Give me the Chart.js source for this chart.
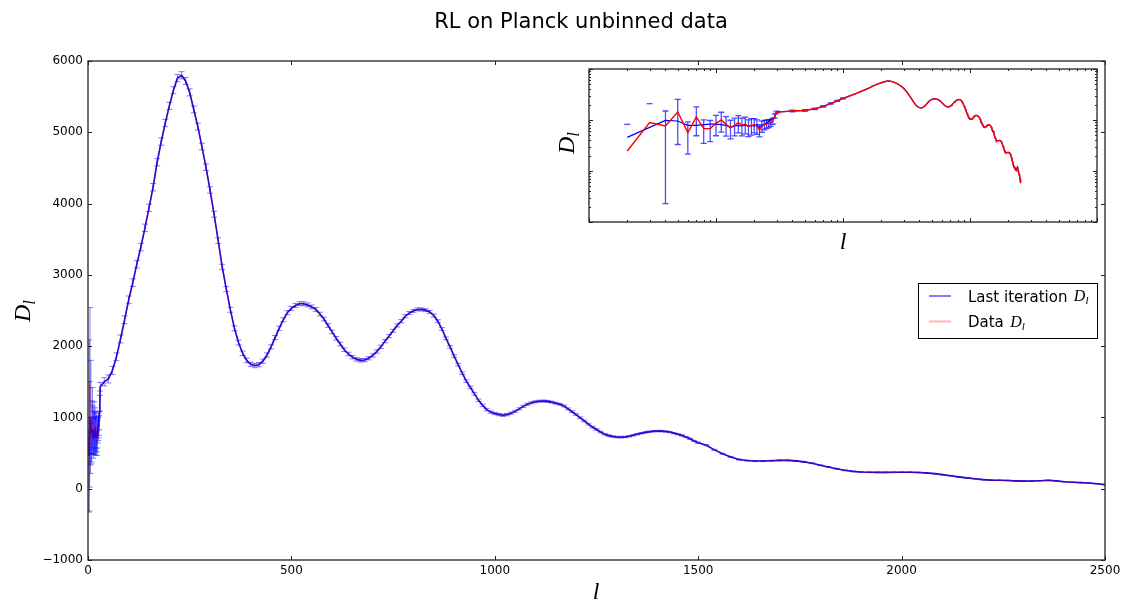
<!DOCTYPE html>
<html>
<head>
<meta charset="utf-8">
<script src="https://cdn.jsdelivr.net/npm/chart.js@4"></script>
<style>
  html, body { margin: 0; padding: 0; background: #fff; }
  #wrap { position: relative; width: 1125px; height: 601px; }
  #wrap canvas { position: absolute; left: 0; top: 0; }
</style>
</head>
<body>
<div id="wrap">
  <canvas id="main" width="1125" height="601"></canvas>
  <canvas id="inset" width="1125" height="601"></canvas>
</div>
<script>
// low multipoles, one value per l
const ellLow = [2, 3, 4, 5, 6, 7, 8, 9, 10, 11, 12, 13, 14, 15, 16, 17, 18, 19, 20,
  21, 22, 23, 24, 25, 26, 27, 28, 29];
const lastLow = [457, 718, 985, 955, 787, 787, 811, 828, 828, 811, 787, 708, 763, 787, 763,
  795, 763, 787, 763, 811, 708, 787, 811, 888, 928, 1000, 1063, 1146];
const dataLow = [247, 888, 763, 1436, 565, 1146, 677, 677, 861, 1000, 822, 708, 787, 888, 787,
  835, 740, 787, 811, 763, 637, 763, 811, 835, 861, 888, 955, 1199];
const errLow = [575, 1200, 740, 1105, 350, 655, 330, 300, 370, 420, 340, 280, 300, 330, 300,
  300, 270, 280, 250, 240, 170, 190, 170, 160, 150, 140, 130, 110];

// high multipoles (reconstruction and data sit on top of each other here)
const ellHigh = [
  30, 40, 50, 60, 70, 80, 90, 100,
  110, 120, 130, 140, 150, 160, 170, 180, 190, 200,
  210, 220, 230, 240, 250, 260, 270, 280, 290, 300,
  310, 320, 330, 340, 350, 360, 370, 380, 390, 400,
  410, 420, 430, 440, 450, 460, 470, 480, 490, 500,
  510, 520, 530, 540, 550, 560, 570, 580, 590, 600,
  610, 620, 630, 640, 650, 660, 670, 680, 690, 700,
  710, 720, 730, 740, 750, 760, 770, 780, 790, 800,
  810, 820, 830, 840, 850, 860, 870, 880, 890, 900,
  910, 920, 930, 940, 950, 960, 970, 980, 990, 1000,
  1010, 1020, 1030, 1040, 1050, 1060, 1070, 1080, 1090, 1100,
  1110, 1120, 1130, 1140, 1150, 1160, 1170, 1180, 1190, 1200,
  1210, 1220, 1230, 1240, 1250, 1260, 1270, 1280, 1290, 1300,
  1310, 1320, 1330, 1340, 1350, 1360, 1370, 1380, 1390, 1400,
  1410, 1420, 1430, 1440, 1450, 1460, 1470, 1480, 1490, 1500,
  1520, 1540, 1560, 1580, 1600, 1620, 1640, 1660, 1680, 1700,
  1720, 1740, 1760, 1780, 1800, 1820, 1840, 1860, 1880, 1900,
  1920, 1940, 1960, 1980, 2000, 2020, 2040, 2060, 2080, 2100,
  2120, 2140, 2160, 2180, 2200, 2220, 2240, 2260, 2280, 2300,
  2320, 2340, 2360, 2380, 2400, 2420, 2440, 2460, 2480, 2500
];
const dlHigh = [
  1430, 1500, 1540, 1660, 1850, 2100, 2370, 2650,
  2890, 3150, 3390, 3660, 3940, 4230, 4580, 4870, 5130, 5370,
  5590, 5760, 5800, 5720, 5560, 5320, 5080, 4800, 4510, 4190,
  3850, 3480, 3110, 2800, 2510, 2250, 2050, 1900, 1800, 1745,
  1728, 1740, 1790, 1875, 1990, 2120, 2250, 2370, 2470, 2530,
  2570, 2595, 2595, 2578, 2550, 2515, 2450, 2380, 2290, 2200,
  2110, 2030, 1950, 1890, 1845, 1815, 1801, 1805, 1830, 1870,
  1925, 1990, 2070, 2140, 2215, 2290, 2350, 2420, 2465, 2495,
  2515, 2515, 2505, 2480, 2430, 2350, 2240, 2110, 1990, 1860,
  1740, 1620, 1510, 1420, 1330, 1240, 1170, 1110, 1075, 1055,
  1040, 1030, 1040, 1060, 1085, 1120, 1155, 1185, 1205, 1220,
  1228, 1230, 1225, 1215, 1200, 1185, 1160, 1120, 1080, 1040,
  995, 950, 905, 865, 830, 795, 765, 745, 733, 725,
  723, 726, 735, 750, 765, 778, 790, 800, 806, 809,
  808, 803, 795, 780, 765, 748, 725, 700, 670, 645,
  610, 545, 490, 445, 410, 395, 388, 388, 393, 398,
  398, 390, 377, 358, 330, 305, 280, 258, 243, 235,
  230, 229, 229, 230, 232, 232, 228, 222, 212, 198,
  183, 166, 152, 140, 128, 121, 118, 116, 110, 106,
  108, 112, 118, 110, 98, 91, 85, 80, 70, 58
];
const errHigh = [
  60, 58, 56, 56, 55, 55, 55, 54,
  54, 53, 53, 52, 52, 52, 51, 51, 50, 50,
  50, 50, 50, 49, 49, 48, 48, 47, 46, 45,
  42, 40, 38, 36, 35, 34, 33, 32, 32, 31,
  31, 30, 30, 30, 29, 29, 29, 28, 28, 28,
  28, 28, 27, 27, 27, 27, 26, 26, 26, 26,
  25, 25, 25, 24, 24, 24, 24, 23, 23, 23,
  23, 23, 22, 22, 22, 22, 22, 21, 21, 21,
  21, 21, 20, 20, 20, 20, 20, 19, 19, 19,
  19, 18, 18, 18, 18, 17, 17, 17, 17, 16,
  16, 16, 16, 15, 15, 15, 15, 15, 14, 14,
  14, 14, 14, 13, 13, 13, 13, 13, 12, 12,
  12, 12, 12, 12, 11, 11, 11, 11, 11, 11,
  11, 10, 10, 10, 10, 10, 10, 10, 10, 10,
  10, 9, 9, 9, 9, 9, 9, 9, 9, 9,
  8, 8, 8, 8, 8, 7, 7, 7, 7, 7,
  7, 7, 6, 6, 6, 6, 6, 6, 5, 5,
  5, 5, 5, 5, 5, 5, 5, 5, 4, 4,
  4, 4, 4, 4, 4, 3, 3, 3, 3, 3,
  3, 3, 3, 3, 3, 3, 3, 3, 2, 2
];

const xTicks = [0, 500, 1000, 1500, 2000, 2500];
const yTicks = [-1000, 0, 1000, 2000, 3000, 4000, 5000, 6000];
const insetXRange = [1, 10000];
const insetYRange = [10, 10000];
const INSET_ERR_MAX_L = 100; // above this the bars vanish under the red line

const ell = ellLow.concat(ellHigh);
const errAll = errLow.concat(errHigh);
const lastPts = ell.map((l, i) => ({ x: l, y: i < ellLow.length ? lastLow[i] : dlHigh[i - ellLow.length] }));
const dataPts = ell.map((l, i) => ({ x: l, y: i < ellLow.length ? dataLow[i] : dlHigh[i - ellLow.length] }));

const SANS = '"DejaVu Sans", sans-serif';
const SERIF = '"Liberation Serif", "DejaVu Serif", serif';

// D with subscript l, centred on (cx, cy)
function drawDl(ctx, cx, cy, size, rotate) {
  ctx.save();
  ctx.translate(cx, cy);
  if (rotate) ctx.rotate(-Math.PI / 2);
  ctx.fillStyle = '#000';
  ctx.textAlign = 'left';
  ctx.textBaseline = 'alphabetic';
  ctx.font = `italic ${size}px ${SERIF}`;
  const wD = ctx.measureText('D').width;
  ctx.font = `italic ${Math.round(size * 0.7)}px ${SERIF}`;
  const wl = ctx.measureText('l').width;
  const x0 = -(wD + wl) / 2;
  ctx.font = `italic ${size}px ${SERIF}`;
  ctx.fillText('D', x0, size * 0.33);
  ctx.font = `italic ${Math.round(size * 0.7)}px ${SERIF}`;
  ctx.fillText('l', x0 + wD, size * 0.33 + size * 0.2);
  ctx.restore();
}

function errorBars(color, cap, width, logScale, maxL) {
  return {
    id: 'errbars',
    afterDatasetDraw(chart, args) {
      if (args.index !== 0) return;
      const { ctx, chartArea } = chart;
      const xs = chart.scales.x, ys = chart.scales.y;
      ctx.save();
      ctx.beginPath();
      ctx.rect(chartArea.left, chartArea.top, chartArea.width, chartArea.height);
      ctx.clip();
      ctx.strokeStyle = color;
      ctx.lineWidth = width;
      dataPts.forEach((p, i) => {
        if (p.x > maxL) return;
        const e = errAll[i];
        const px = xs.getPixelForValue(p.x);
        const hi = ys.getPixelForValue(p.y + e);
        ctx.beginPath();
        ctx.moveTo(px - cap, hi); ctx.lineTo(px + cap, hi);
        if (!(logScale && p.y - e <= 0)) {
          const lo = ys.getPixelForValue(p.y - e);
          ctx.moveTo(px, hi); ctx.lineTo(px, lo);
          ctx.moveTo(px - cap, lo); ctx.lineTo(px + cap, lo);
        }
        ctx.stroke();
      });
      ctx.restore();
    }
  };
}

function frameAndTicks(ctx, area, xs, ys, xt, yt) {
  ctx.save();
  ctx.strokeStyle = '#222';
  ctx.lineWidth = 1;
  xt.forEach(t => {
    const px = Math.round(xs.getPixelForValue(t.v)) + 0.5;
    ctx.beginPath();
    ctx.moveTo(px, area.bottom); ctx.lineTo(px, area.bottom - t.len);
    ctx.moveTo(px, area.top); ctx.lineTo(px, area.top + t.len);
    ctx.stroke();
  });
  yt.forEach(t => {
    const py = Math.round(ys.getPixelForValue(t.v)) + 0.5;
    ctx.beginPath();
    ctx.moveTo(area.left, py); ctx.lineTo(area.left + t.len, py);
    ctx.moveTo(area.right, py); ctx.lineTo(area.right - t.len, py);
    ctx.stroke();
  });
  ctx.lineWidth = 1.3;
  ctx.strokeRect(area.left, area.top, area.right - area.left, area.bottom - area.top);
  ctx.restore();
}

const mainDecor = {
  id: 'mainDecor',
  beforeDraw(chart) {
    const ctx = chart.ctx;
    ctx.save();
    ctx.fillStyle = '#fff';
    ctx.fillRect(0, 0, chart.width, chart.height);
    ctx.restore();
  },
  afterDraw(chart) {
    const { ctx, chartArea } = chart;
    frameAndTicks(ctx, chartArea, chart.scales.x, chart.scales.y,
      xTicks.map(v => ({ v, len: 4 })), yTicks.map(v => ({ v, len: 4 })));

    // title
    ctx.save();
    ctx.fillStyle = '#000';
    ctx.font = `21px ${SANS}`;
    ctx.textAlign = 'center';
    ctx.textBaseline = 'alphabetic';
    ctx.fillText('RL on Planck unbinned data', 581, 28);

    // axis labels
    ctx.font = `italic 24px ${SERIF}`;
    ctx.fillText('l', 596, 599);
    ctx.restore();
    drawDl(ctx, 22, 311, 24, true);

    // legend
    ctx.save();
    ctx.fillStyle = '#fff';
    ctx.fillRect(918.5, 283.5, 179, 55);
    ctx.strokeStyle = '#000';
    ctx.lineWidth = 1;
    ctx.strokeRect(918.5, 283.5, 179, 55);
    ctx.strokeStyle = '#0000ff';
    ctx.beginPath(); ctx.moveTo(929, 296); ctx.lineTo(951, 296); ctx.stroke();
    ctx.strokeStyle = 'rgba(255,0,0,0.3)';
    ctx.lineWidth = 2;
    ctx.beginPath(); ctx.moveTo(929, 321.5); ctx.lineTo(951, 321.5); ctx.stroke();
    ctx.fillStyle = '#000';
    ctx.font = `15px ${SANS}`;
    ctx.textAlign = 'left';
    ctx.textBaseline = 'alphabetic';
    ctx.fillText('Last iteration', 968, 301.5);
    ctx.fillText('Data', 968, 327);
    const w1 = ctx.measureText('Last iteration ').width;
    const w2 = ctx.measureText('Data ').width;
    ctx.restore();
    drawDl(ctx, 968 + w1 + 9, 296, 16, false);
    drawDl(ctx, 968 + w2 + 9, 321.5, 16, false);
  }
};

new Chart(document.getElementById('main'), {
  type: 'line',
  data: {
    datasets: [
      { label: 'Last iteration', data: lastPts, borderColor: '#0000ff', borderWidth: 1.6,
        pointRadius: 0, tension: 0, order: 1 },
      { label: 'Data', data: dataPts, borderColor: 'rgba(255,0,0,0.3)', borderWidth: 1.2,
        pointRadius: 0, tension: 0, order: 0 }
    ]
  },
  options: {
    responsive: false,
    animation: false,
    events: [],
    layout: { padding: { left: 0, top: 61, right: 20, bottom: 0 } },
    plugins: { legend: { display: false }, tooltip: { enabled: false }, title: { display: false } },
    scales: {
      x: {
        type: 'linear', min: 0, max: 2500,
        afterBuildTicks: s => { s.ticks = xTicks.map(v => ({ value: v })); },
        ticks: { color: '#000', font: { family: 'DejaVu Sans', size: 12 }, padding: 4, maxRotation: 0,
          callback: v => String(v) },
        grid: { display: false, drawTicks: false },
        border: { display: false },
        afterFit: s => { s.height = 41; }
      },
      y: {
        type: 'linear', min: -1000, max: 6000,
        afterBuildTicks: s => { s.ticks = yTicks.map(v => ({ value: v })); },
        ticks: { color: '#000', font: { family: 'DejaVu Sans', size: 12 }, padding: 5,
          callback: v => (v < 0 ? '\u2212' + Math.abs(v) : String(v)) },
        grid: { display: false, drawTicks: false },
        border: { display: false },
        afterFit: s => { s.width = 88; }
      }
    }
  },
  plugins: [mainDecor, errorBars('rgba(0,0,255,0.5)', 3, 1, false, Infinity)]
});

// inset, log-log
function logTicks(range) {
  const out = [];
  for (let d = range[0]; d <= range[1]; d *= 10) {
    for (let k = 1; k <= 9; k++) {
      const v = d * k;
      if (v > range[1]) break;
      out.push({ v, len: k === 1 ? 4 : 2 });
    }
  }
  return out;
}

const insetDecor = {
  id: 'insetDecor',
  beforeDraw(chart) {
    const { ctx, chartArea } = chart;
    ctx.save();
    ctx.fillStyle = '#fff';
    ctx.fillRect(chartArea.left, chartArea.top, chartArea.right - chartArea.left, chartArea.bottom - chartArea.top);
    ctx.restore();
  },
  afterDraw(chart) {
    const { ctx, chartArea } = chart;
    frameAndTicks(ctx, chartArea, chart.scales.x, chart.scales.y, logTicks(insetXRange), logTicks(insetYRange));
    ctx.save();
    ctx.fillStyle = '#000';
    ctx.font = `italic 24px ${SERIF}`;
    ctx.textAlign = 'center';
    ctx.fillText('l', 843, 249);
    ctx.restore();
    drawDl(ctx, 566, 143, 24, true);
  }
};

new Chart(document.getElementById('inset'), {
  type: 'line',
  data: {
    datasets: [
      { data: lastPts, borderColor: '#0000ff', borderWidth: 1.2, pointRadius: 0, tension: 0, order: 1 },
      { data: dataPts, borderColor: '#ff0000', borderWidth: 1.4, pointRadius: 0, tension: 0, order: 0 }
    ]
  },
  options: {
    responsive: false,
    animation: false,
    events: [],
    layout: { padding: { left: 589, top: 69, right: 28, bottom: 379 } },
    plugins: { legend: { display: false }, tooltip: { enabled: false } },
    scales: {
      x: { type: 'logarithmic', min: insetXRange[0], max: insetXRange[1], display: false },
      y: { type: 'logarithmic', min: insetYRange[0], max: insetYRange[1], display: false }
    }
  },
  plugins: [insetDecor, errorBars('rgba(0,0,255,0.7)', 3, 1.3, true, INSET_ERR_MAX_L)]
});
</script>
</body>
</html>
